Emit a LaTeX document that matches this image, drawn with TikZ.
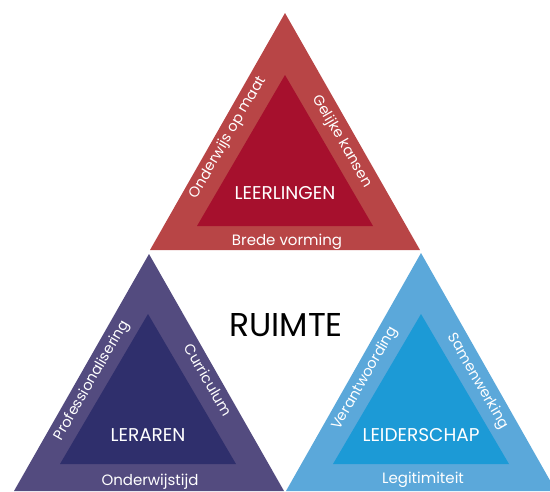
\documentclass[tikz,border=0pt]{standalone}
\usepackage{fontspec}
\setmainfont{Poppins}
\usepackage{tikz}
\usetikzlibrary{positioning, calc}
\definecolor{leerlingenouter}{HTML}{B84546}
\definecolor{leerlingeninner}{HTML}{A6102D}
\definecolor{lerarenouter}{HTML}{534B7F}
\definecolor{lerareninner}{HTML}{2F2F6C}
\definecolor{leiderschapouter}{HTML}{5BA8DA}
\definecolor{leiderschapinner}{HTML}{1C9AD6}
\tikzstyle{mainlabel} = [text=white, inner sep=0pt, font=\fontsize{18.5}{20}\selectfont]
\tikzstyle{sidelabel} = [text=white, inner sep=0pt, text height=0.72em, text depth=0.2em, font=\fontsize{14.5}{16}\selectfont]
\tikzstyle{baselabel} = [text=white, inner sep=0pt, anchor=base, font=\fontsize{15}{16}\selectfont]

\begin{document}
\begin{tikzpicture}[x=1pt, y=-1pt]
    \useasboundingbox (0,0) rectangle (550,491);

    % leerlingen (top)
    \fill[leerlingenouter] (285,13) -- (420,250) -- (150,250) -- cycle;
    \fill[leerlingeninner] (285,75) -- (373,226) -- (197,226) -- cycle;
    % leraren (bottom left)
    \fill[lerarenouter] (149,254) -- (284,491) -- (14,491) -- cycle;
    \fill[lerareninner] (148,314) -- (236,464) -- (60,464) -- cycle;
    % leiderschap (bottom right)
    \fill[leiderschapouter] (421,253) -- (556,491) -- (286,491) -- cycle;
    \fill[leiderschapinner] (421,314) -- (509,464) -- (333,464) -- cycle;

    \node[font=\fontsize{33}{36}\selectfont, inner sep=0pt] (ruimte) at (286,325) {RUIMTE};

    \node[mainlabel] (leerlingen) at (285,193) {LEERLINGEN};
    \node[baselabel] (brede) at (287,245) {Brede vorming};
    \node[sidelabel, rotate=60] (maat) at (229,138) {Onderwijs op maat};
    \node[sidelabel, rotate=-60] (kansen) at (341,142) {Gelijke kansen};

    \node[mainlabel] (leraren) at (148,435) {LERAREN};
    \node[baselabel] (tijd) at (150,485) {Onderwijstijd};
    \node[sidelabel, rotate=60] (prof) at (93,381) {Professionalisering};
    \node[sidelabel, rotate=-60] (curr) at (206,381) {Curriculum};

    \node[mainlabel] (leiderschap) at (421,435) {LEIDERSCHAP};
    \node[baselabel] (legit) at (423,483) {Legitimiteit};
    \node[sidelabel, rotate=60] (verant) at (366,379) {Verantwoording};
    \node[sidelabel, rotate=-60] (samen) at (477,382) {Samenwerking};
\end{tikzpicture}
\end{document}
